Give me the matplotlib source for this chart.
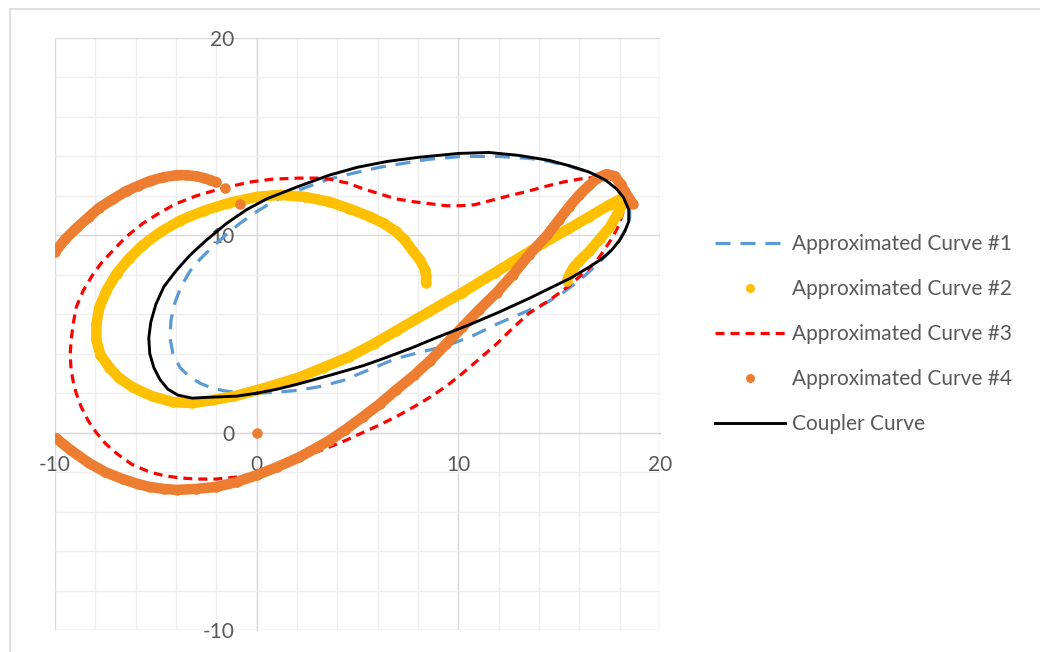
import matplotlib
matplotlib.use("Agg")
import matplotlib.pyplot as plt
from matplotlib.lines import Line2D
from matplotlib.ticker import MultipleLocator

plt.rcParams['font.family'] = ['Lato', 'DejaVu Sans']
plt.rcParams['axes.unicode_minus'] = False

# Coupler curve (closed loop)
coupler_x = [0.0, 1.0, 2.0, 3.6, 5.3, 6.4, 7.7, 9.0, 10.5, 12.0, 13.5, 14.5, 15.6, 16.5,
             17.1, 17.6, 18.0, 18.25, 18.45, 18.45, 18.2, 17.85, 17.3, 16.5, 15.6, 14.5,
             13.0, 11.5, 10.0, 8.0, 6.5, 5.0, 3.6, 2.0, 0.5, -0.5, -1.5, -2.5, -3.3, -4.0,
             -4.6, -5.0, -5.25, -5.35, -5.3, -5.1, -4.8, -4.4, -3.9, -3.2, -2.2, -1.0, 0.0]
coupler_y = [2.0, 2.2, 2.45, 2.9, 3.4, 3.8, 4.3, 4.85, 5.45, 6.1, 6.8, 7.3, 7.85, 8.4,
             8.8, 9.25, 9.75, 10.2, 10.7, 11.3, 11.9, 12.35, 12.8, 13.2, 13.5, 13.8,
             14.05, 14.2, 14.15, 13.95, 13.75, 13.45, 13.05, 12.45, 11.85, 11.3, 10.6, 9.75, 9.0, 8.2,
             7.4, 6.5, 5.6, 4.8, 4.0, 3.3, 2.7, 2.2, 1.9, 1.75, 1.8, 1.85, 2.0]

# Approximated curve #1 (closed loop)
curve1_x = [0.0, 1.0, 2.1, 3.2, 4.3, 5.6, 6.9, 8.2, 9.4, 10.7, 11.9, 13.5, 14.4, 15.2,
            16.1, 16.85, 17.45, 17.95, 18.3, 18.5, 18.5, 18.25, 17.8, 17.2, 16.5, 15.5,
            14.5, 13.5, 12.0, 10.2, 8.5, 7.0, 6.1, 4.8, 3.6, 2.5, 1.5, 0.8, 0.0, -0.84,
            -1.5, -2.2, -2.8, -3.3, -3.75, -4.05, -4.25, -4.3, -4.15, -3.8, -3.35, -2.8,
            -2.2, -1.5, -0.7, 0.0]
curve1_y = [2.0, 2.05, 2.15, 2.35, 2.65, 3.2, 3.75, 4.1, 4.4, 4.9, 5.5, 6.2, 6.6, 7.1,
            7.8, 8.5, 9.1, 9.7, 10.3, 10.9, 11.4, 11.95, 12.4, 12.85, 13.2, 13.5,
            13.75, 13.9, 14.0, 14.0, 13.85, 13.6, 13.45, 13.15, 12.85, 12.45, 12.05, 11.7, 11.2, 10.6,
            10.05, 9.4, 8.8, 8.2, 7.4, 6.6, 5.7, 4.8, 4.0, 3.3, 2.85, 2.5,
            2.25, 2.1, 2.02, 2.0]

# Approximated curve #2 (open path)
curve2_x = [8.4, 8.4, 8.35, 8.1, 7.75, 7.35, 6.9, 6.3, 5.6, 4.6, 3.6, 2.4, 1.15, 0.0,
            -1.35, -2.6, -3.8, -4.8, -5.65, -6.35, -6.95, -7.45, -7.8, -7.95, -7.95,
            -7.75, -7.3, -6.8, -6.15, -5.2, -4.15, -3.2, -2.2, -1.1, 0.0, 1.0, 2.1, 3.3,
            4.6, 5.8, 6.9, 8.5, 10.2, 11.8, 13.0, 14.2, 15.5, 16.5, 17.5, 18.35, 17.9,
            17.5, 17.0, 16.5, 16.0, 15.7, 15.5, 15.4]
curve2_y = [7.6, 7.95, 8.25, 8.75, 9.2, 9.75, 10.2, 10.6, 10.95, 11.35, 11.7, 11.95, 12.05, 11.95,
            11.65, 11.25, 10.75, 10.15, 9.5, 8.8, 8.05, 7.2, 6.35, 5.5, 4.7,
            3.95, 3.3, 2.75, 2.3, 1.85, 1.55, 1.5, 1.65, 1.85, 2.15, 2.45, 2.8, 3.3,
            3.85, 4.5, 5.15, 6.1, 7.1, 8.1, 8.85, 9.6, 10.35, 10.95, 11.55, 12.0, 11.1,
            10.4, 9.8, 9.2, 8.7, 8.35, 8.0, 7.7]

# Approximated curve #3 (closed loop)
curve3_x = [-0.35, 0.8, 2.1, 3.0, 3.6, 4.5, 5.3, 6.1, 6.9, 7.8, 8.6, 9.4, 10.06, 10.8,
            11.55, 12.5, 13.5, 14.4, 15.2, 16.0, 16.85, 17.5, 17.95, 18.2, 18.15, 17.95,
            17.65, 17.2, 16.85, 16.4, 16.0, 15.5, 14.5, 13.5, 12.7, 11.9, 11.0, 10.2, 9.4,
            8.6, 7.7, 6.9, 6.0, 5.25, 4.4, 3.6, 2.8, 2.1, 1.0, 0.0, -1.0, -2.0, -3.0, -3.7,
            -4.5, -5.3, -6.2, -6.95, -7.5, -7.95, -8.35, -8.7, -8.95, -9.1, -9.2, -9.25,
            -9.2, -9.1, -8.95, -8.6, -8.1, -7.7, -7.2, -6.5, -5.65, -4.8, -4.0, -3.0, -2.0,
            -1.2, -0.35]
curve3_y = [12.7, 12.85, 12.9, 12.9, 12.85, 12.65, 12.35, 12.1, 11.85, 11.7, 11.6, 11.5, 11.5, 11.55,
            11.75, 12.0, 12.25, 12.5, 12.7, 12.85, 12.95, 12.9, 12.5, 11.9, 11.1, 10.5,
            9.9, 9.2, 8.7, 8.25, 7.9, 7.45, 6.7, 6.05, 5.3, 4.5, 3.7, 3.0, 2.35,
            1.8, 1.25, 0.8, 0.35, 0.0, -0.4, -0.73, -1.05, -1.4, -1.75, -2.05, -2.25, -2.35, -2.35, -2.3,
            -2.2, -2.0, -1.6, -1.05, -0.55, 0.0, 0.6, 1.3, 2.0, 2.6, 3.2, 3.9,
            4.7, 5.5, 6.35, 7.2, 8.05, 8.6, 9.15, 9.9, 10.6, 11.15, 11.6, 12.0, 12.3,
            12.5, 12.7]

# Approximated curve #4: lower branch, upper-left arc and isolated points
curve4_lower_x = [-9.95, -9.2, -8.3, -7.5, -6.65, -5.9, -5.3, -4.6, -3.97, -3.0, -2.0, -1.0,
                  0.0, 1.0, 2.1, 3.0, 3.6, 4.4, 5.26, 6.1, 6.9, 7.8, 8.6, 9.4, 10.2, 11.0,
                  11.9, 12.7, 13.5, 14.4, 15.0, 15.5, 16.0, 16.5, 16.9, 17.35, 17.75, 18.05,
                  18.2, 18.65]
curve4_lower_y = [-0.28, -0.9, -1.55, -2.0, -2.35, -2.6, -2.75, -2.85, -2.9, -2.85, -2.75, -2.5,
                  -2.15, -1.75, -1.25, -0.75, -0.4, 0.15, 0.8, 1.45, 2.15, 2.9, 3.65, 4.5, 5.35, 6.2,
                  7.1, 8.0, 9.0, 10.0, 10.8, 11.45, 12.05, 12.55, 12.9, 13.1, 13.0, 12.6,
                  12.3, 11.6]
curve4_upper_x = [-10.0, -9.5, -8.9, -8.3, -7.8, -7.1, -6.45, -5.9, -5.3, -4.6, -3.97, -3.5,
                  -3.0, -2.6, -2.3, -2.0]
curve4_upper_y = [9.15, 9.8, 10.4, 10.95, 11.4, 11.85, 12.25, 12.5, 12.75, 12.95, 13.05, 13.05,
                  13.0, 12.9, 12.8, 12.7]
curve4_points_x = [-1.55, -0.84, 0.0]
curve4_points_y = [12.4, 11.6, 0.0]

labels = ["Approximated Curve #1", "Approximated Curve #2", "Approximated Curve #3",
          "Approximated Curve #4", "Coupler Curve"]

BLUE = "#5B9BD5"
GOLD = "#FFC000"
RED = "#FF0000"
ORANGE = "#ED7D31"
TXT = "#595959"

fig = plt.figure(figsize=(10.4, 6.52), dpi=100)
ax = fig.add_axes([55 / 1040, 1 - 630 / 652, 605 / 1040, 592 / 652])

ax.set_xlim(-10, 20)
ax.set_ylim(-10, 20)
ax.xaxis.set_major_locator(MultipleLocator(10))
ax.yaxis.set_major_locator(MultipleLocator(10))
ax.xaxis.set_minor_locator(MultipleLocator(2))
ax.yaxis.set_minor_locator(MultipleLocator(2))
ax.grid(which='minor', color='#EEEEEE', linewidth=1.0)
ax.grid(which='major', color='#D9D9D9', linewidth=1.0)
ax.set_axisbelow(True)

for side in ['top', 'right']:
    ax.spines[side].set_visible(False)
ax.spines['left'].set_position(('data', 0))
ax.spines['bottom'].set_position(('data', 0))
ax.spines['left'].set_color('#BFBFBF')
ax.spines['bottom'].set_color('#BFBFBF')
ax.spines['left'].set_zorder(0.5)
ax.spines['bottom'].set_zorder(0.5)
ax.tick_params(which='both', length=0, labelsize=15, colors=TXT)
ax.tick_params(axis='y', pad=16)
ax.tick_params(axis='x', pad=16)

px = 72 / 100
mk = dict(marker='o', ls='none', ms=10.5 * px, mew=0)
thick = dict(lw=10.5 * px, solid_capstyle='round', solid_joinstyle='round')

ax.plot(curve1_x, curve1_y, color=BLUE, lw=3.2 * px, dashes=(4.7, 3.1), zorder=3)
ax.plot(curve3_x, curve3_y, color=RED, lw=3.2 * px, dashes=(2.8, 1.9), zorder=3)
ax.plot(curve2_x, curve2_y, color=GOLD, zorder=4, **thick)
ax.plot(curve2_x, curve2_y, color=GOLD, zorder=4, **mk)
for xs, ys in [(curve4_lower_x, curve4_lower_y), (curve4_upper_x, curve4_upper_y)]:
    ax.plot(xs, ys, color=ORANGE, zorder=5, **thick)
    ax.plot(xs, ys, color=ORANGE, zorder=5, **mk)
ax.plot(curve4_points_x, curve4_points_y, color=ORANGE, zorder=5, **mk)
ax.plot(coupler_x, coupler_y, color='black', lw=2.9 * px, zorder=6)

handles = [
    Line2D([], [], color=BLUE, lw=3.2 * px, dashes=(4.7, 3.1)),
    Line2D([], [], color=GOLD, marker='o', ls='none', ms=9 * px, mew=0),
    Line2D([], [], color=RED, lw=3.2 * px, dashes=(2.8, 1.9)),
    Line2D([], [], color=ORANGE, marker='o', ls='none', ms=9 * px, mew=0),
    Line2D([], [], color='black', lw=2.9 * px),
]
fig.legend(handles, labels, loc='upper left', bbox_to_anchor=(705 / 1040, 1 - 224 / 652),
           frameon=False, fontsize=15, labelcolor=TXT, handlelength=3.35,
           handletextpad=0.33, labelspacing=1.2, borderpad=0)

# outer chart border
fig.add_artist(Line2D([10 / 1040, 1], [1 - 9 / 652, 1 - 9 / 652], color='#D9D9D9', lw=1.2,
                      transform=fig.transFigure))
fig.add_artist(Line2D([10 / 1040, 10 / 1040], [0, 1 - 9 / 652], color='#D9D9D9', lw=1.2,
                      transform=fig.transFigure))

fig.savefig("out.png", dpi=100, facecolor='white')
